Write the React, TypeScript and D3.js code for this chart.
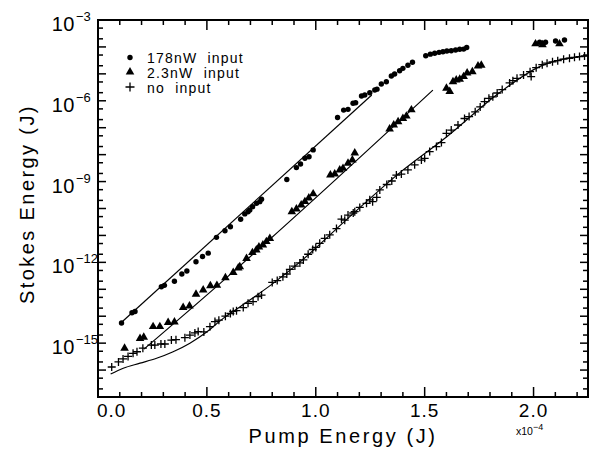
import React from 'react'
import * as d3 from 'd3'

// pump energy in units of 1e-4 J, stokes energy in J
const dots178: [number, number][] = [
  [0.108, 5.6e-15], [0.156, 1.35e-14], [0.170, 1.5e-14], [0.291, 1.25e-13], [0.305, 1.4e-13],
  [0.351, 2.0e-13], [0.385, 3.7e-13], [0.408, 4.8e-13], [0.450, 1.05e-12], [0.480, 1.65e-12],
  [0.506, 2.2e-12], [0.544, 8.5e-12], [0.583, 1.5e-11], [0.608, 2.1e-11], [0.655, 4.0e-11],
  [0.674, 6.3e-11], [0.689, 7.6e-11], [0.697, 8.8e-11], [0.710, 1.17e-10], [0.728, 1.55e-10],
  [0.743, 1.8e-10], [0.751, 2.2e-10], [0.867, 1.2e-9], [0.911, 3.3e-9], [0.930, 4.5e-9],
  [0.950, 7.3e-9], [0.969, 8.3e-9], [0.988, 1.5e-8], [1.100, 2.4e-7], [1.128, 4.5e-7],
  [1.148, 4.8e-7], [1.171, 8.1e-7], [1.183, 8.5e-7], [1.210, 1.5e-6], [1.225, 1.65e-6],
  [1.248, 2.0e-6], [1.271, 2.5e-6], [1.281, 2.7e-6], [1.301, 4.2e-6], [1.324, 5.1e-6],
  [1.347, 8.3e-6], [1.362, 9.9e-6], [1.385, 1.3e-5], [1.400, 1.6e-5], [1.423, 2.1e-5],
  [1.444, 2.7e-5], [1.505, 4.7e-5], [1.526, 5.4e-5], [1.546, 5.8e-5], [1.566, 6.3e-5],
  [1.584, 6.6e-5], [1.602, 7.1e-5], [1.622, 7.2e-5], [1.642, 7.7e-5], [1.661, 8.2e-5],
  [1.679, 8.3e-5], [1.693, 9.5e-5], [2.028, 1.5e-4], [2.055, 1.5e-4], [2.101, 1.66e-4],
  [2.142, 1.8e-4],
]

const tri23: [number, number][] = [
  [0.122, 6.5e-16], [0.193, 1.5e-15], [0.210, 1.65e-15], [0.253, 4.1e-15], [0.284, 4.1e-15],
  [0.322, 5.8e-15], [0.351, 6.1e-15], [0.391, 2.1e-14], [0.420, 2.4e-14], [0.450, 6.6e-14],
  [0.483, 9.4e-14], [0.516, 1.35e-13], [0.546, 1.4e-13], [0.585, 2.7e-13], [0.621, 4.2e-13],
  [0.644, 6.2e-13], [0.651, 6.9e-13], [0.682, 1.4e-12], [0.709, 2.3e-12], [0.727, 2.9e-12],
  [0.739, 3.7e-12], [0.757, 4.4e-12], [0.773, 5.9e-12], [0.789, 7.7e-12], [0.890, 7.6e-11],
  [0.911, 9.6e-11], [0.933, 1.35e-10], [0.950, 1.8e-10], [0.968, 2.45e-10], [0.988, 3.5e-10],
  [1.067, 1.75e-9], [1.087, 1.9e-9], [1.110, 2.7e-9], [1.125, 3.1e-9], [1.148, 4.8e-9],
  [1.168, 6.3e-9], [1.179, 1.15e-8], [1.339, 8.9e-8], [1.358, 1.26e-7], [1.378, 1.66e-7],
  [1.400, 2.2e-7], [1.416, 2.7e-7], [1.439, 4.6e-7], [1.600, 2.9e-6], [1.615, 2.2e-6],
  [1.630, 5.1e-6], [1.645, 5.9e-6], [1.661, 6.3e-6], [1.679, 7.9e-6], [1.695, 1.07e-5],
  [1.719, 1.2e-5], [1.745, 1.95e-5], [1.760, 2.1e-5], [2.009, 1.3e-4], [2.041, 1.2e-4],
  [2.119, 1.3e-4],
]

const noInput: [number, number][] = [
  [0.063, 1.3e-16], [0.094, 2.0e-16], [0.115, 2.6e-16], [0.138, 3.2e-16], [0.161, 4.2e-16],
  [0.179, 4.8e-16], [0.206, 6.5e-16], [0.245, 8.5e-16], [0.261, 8.5e-16], [0.289, 9.3e-16],
  [0.307, 9.3e-16], [0.337, 1.3e-15], [0.358, 1.35e-15], [0.399, 1.6e-15], [0.422, 2.0e-15],
  [0.445, 2.4e-15], [0.460, 2.7e-15], [0.486, 2.6e-15], [0.514, 4.1e-15], [0.537, 6.3e-15],
  [0.555, 7.1e-15], [0.585, 1.0e-14], [0.608, 1.26e-14], [0.621, 1.5e-14], [0.636, 1.6e-14],
  [0.667, 2.1e-14], [0.689, 3.0e-14], [0.712, 3.5e-14], [0.735, 5.3e-14], [0.751, 6.1e-14],
  [0.800, 1.8e-13], [0.823, 2.1e-13], [0.849, 2.9e-13], [0.867, 3.7e-13], [0.881, 5.5e-13],
  [0.904, 7.3e-13], [0.927, 9.5e-13], [0.943, 1.23e-12], [0.965, 2.0e-12], [0.986, 3.0e-12],
  [1.000, 3.6e-12], [1.018, 5.1e-12], [1.041, 7.8e-12], [1.064, 1.05e-11], [1.095, 1.8e-11],
  [1.118, 4.0e-11], [1.133, 3.7e-11], [1.148, 5.7e-11], [1.172, 6.8e-11], [1.179, 7.6e-11],
  [1.202, 1.1e-10], [1.233, 1.55e-10], [1.248, 2.1e-10], [1.261, 1.8e-10], [1.280, 2.6e-10],
  [1.294, 4.9e-10], [1.326, 7.8e-10], [1.349, 1.05e-9], [1.370, 1.75e-9], [1.393, 1.9e-9],
  [1.423, 2.7e-9], [1.454, 4.2e-9], [1.485, 6.3e-9], [1.500, 7.3e-9], [1.523, 1.3e-8],
  [1.554, 2.0e-8], [1.577, 2.8e-8], [1.600, 6.2e-8], [1.622, 8.2e-8], [1.653, 1.26e-7],
  [1.683, 2.2e-7], [1.704, 2.6e-7], [1.732, 3.9e-7], [1.755, 5.9e-7], [1.775, 9.3e-7],
  [1.795, 1.23e-6], [1.813, 1.4e-6], [1.833, 1.95e-6], [1.856, 2.6e-6], [1.890, 4.6e-6],
  [1.905, 5.6e-6], [1.924, 6.8e-6], [1.954, 9.1e-6], [1.984, 1.2e-5], [1.989, 7.9e-6],
  [2.012, 1.7e-5], [2.040, 2.2e-5], [2.062, 2.5e-5], [2.087, 2.8e-5], [2.111, 3.1e-5],
  [2.138, 3.5e-5], [2.165, 3.8e-5], [2.188, 4.1e-5], [2.211, 4.4e-5], [2.234, 4.6e-5],
]

// model curves
const fit178: [number, number][] = [[0.111, 6.2e-15], [1.257, 1.64e-6]]
const fit23: [number, number][] = [[0.211, 6.0e-16], [0.544, 1.26e-13], [0.789, 7.2e-12], [1.538, 2.5e-6]]
const fitNone: [number, number][] = [
  [0.058, 7.1e-17], [0.116, 1.17e-16], [0.193, 1.8e-16], [0.269, 2.75e-16], [0.345, 4.8e-16],
  [0.422, 1.0e-15], [0.499, 2.6e-15], [0.575, 8.3e-15], [0.651, 2.2e-14], [0.804, 1.66e-13],
  [0.927, 1.02e-12], [1.15, 4.5e-11], [1.385, 2.1e-9], [1.60, 4.5e-8], [1.84, 1.9e-6],
  [2.03, 1.9e-5], [2.252, 4.8e-5],
]

const xTickLabels = ['0.0', '0.5', '1.0', '1.5', '2.0']
const yTickExps = [-3, -6, -9, -12, -15]
const legendLabels = ['178nW  input', '2.3nW  input', 'no  input']

const font = "'Liberation Sans', Arial, Helvetica, sans-serif"

export default function App() {
  const left = 98, right = 588, top = 20, bottom = 397

  const x = d3.scaleLinear().domain([0, 2.25]).range([left, right])
  const y = d3.scaleLog().domain([1e-17, 1e-3]).range([bottom, top])

  const line = d3.line<[number, number]>().x(d => x(d[0])).y(d => y(d[1]))
  const curve = d3.line<[number, number]>().x(d => x(d[0])).y(d => y(d[1])).curve(d3.curveMonotoneX)
  const tri = d3.symbol().type(d3.symbolTriangle).size(32)()

  const xTicks = d3.range(0, 23).map(i => ({ v: i / 10, major: i % 5 === 0 }))
  const yTicks: { v: number; major: boolean }[] = []
  for (let e = -17; e <= -3; e++) {
    yTicks.push({ v: Math.pow(10, e), major: true })
    if (e < -3) {
      yTicks.push({ v: 2 * Math.pow(10, e), major: false })
      yTicks.push({ v: 5 * Math.pow(10, e), major: false })
    }
  }

  const cross = (cx: number, cy: number, s: number) => `M${cx - s},${cy}H${cx + s}M${cx},${cy - s}V${cy + s}`

  return (
    <svg width={590} height={451} style={{ position: 'absolute', left: 0, top: 0, background: '#fff' }} fontFamily={font}>
      {/* fitted curves */}
      <path d={line(fit178) || ''} fill="none" stroke="#000" strokeWidth={1.2} />
      <path d={curve(fit23) || ''} fill="none" stroke="#000" strokeWidth={1.2} />
      <path d={curve(fitNone) || ''} fill="none" stroke="#000" strokeWidth={1.2} />

      {/* data */}
      {dots178.map((d, i) => (
        <circle key={'d' + i} cx={x(d[0])} cy={y(d[1])} r={2.7} fill="#000" />
      ))}
      {tri23.map((d, i) => (
        <path key={'t' + i} d={tri || ''} transform={`translate(${x(d[0])},${y(d[1])})`} fill="#000" />
      ))}
      {noInput.map((d, i) => (
        <path key={'c' + i} d={cross(x(d[0]), y(d[1]), 4)} stroke="#000" strokeWidth={1.3} />
      ))}

      {/* frame and ticks */}
      <rect x={left} y={top} width={right - left} height={bottom - top} fill="none" stroke="#000" strokeWidth={2} />
      {xTicks.map((t, i) => {
        const len = t.major ? 10 : 5
        return (
          <g key={'xt' + i} stroke="#000" strokeWidth={1.5}>
            <line x1={x(t.v)} x2={x(t.v)} y1={bottom} y2={bottom - len} />
            <line x1={x(t.v)} x2={x(t.v)} y1={top} y2={top + len} />
          </g>
        )
      })}
      {yTicks.map((t, i) => {
        const len = t.major ? 8 : 5
        return (
          <g key={'yt' + i} stroke="#000" strokeWidth={1.5}>
            <line x1={left} x2={left + len} y1={y(t.v)} y2={y(t.v)} />
            <line x1={right} x2={right - len} y1={y(t.v)} y2={y(t.v)} />
          </g>
        )
      })}

      {/* tick labels */}
      {xTickLabels.map((s, i) => {
        const v = i * 0.5
        return (
          <text key={'xl' + i} x={i === 0 ? left - 1 : x(v)} y={417} fontSize={19} letterSpacing={1}
            textAnchor={i === 0 ? 'start' : 'middle'} fill="#000">{s}</text>
        )
      })}
      {yTickExps.map(e => (
        <g key={'yl' + e} fill="#000">
          <text x={75} y={y(Math.pow(10, e)) + 11} fontSize={20} textAnchor="end" letterSpacing={0.5}>10</text>
          <text x={76} y={y(Math.pow(10, e)) + 1} fontSize={13} textAnchor="start">{'\u2212' + Math.abs(e)}</text>
        </g>
      ))}
      <text x={516} y={435} fontSize={10.5} fill="#000">x10</text>
      <text x={533} y={430} fontSize={9} fill="#000">{'\u22124'}</text>

      {/* axis titles */}
      <text x={(left + right) / 2} y={443} fontSize={20} letterSpacing={2.6} textAnchor="middle" fill="#000">Pump Energy  (J)</text>
      <text transform={`translate(34,204) rotate(-90)`} fontSize={20} letterSpacing={2.4} textAnchor="middle" fill="#000">Stokes Energy  (J)</text>

      {/* legend */}
      <g fill="#000">
        <circle cx={130} cy={57.5} r={2.7} />
        <path d={tri || ''} transform="translate(130,72)" />
        <path d={cross(130, 87, 4.5)} stroke="#000" strokeWidth={1.3} />
        {legendLabels.map((s, i) => (
          <text key={'lg' + i} x={147} y={63 + i * 15} fontSize={14} letterSpacing={1.2} style={{ whiteSpace: 'pre' }}>{s}</text>
        ))}
      </g>
    </svg>
  )
}
